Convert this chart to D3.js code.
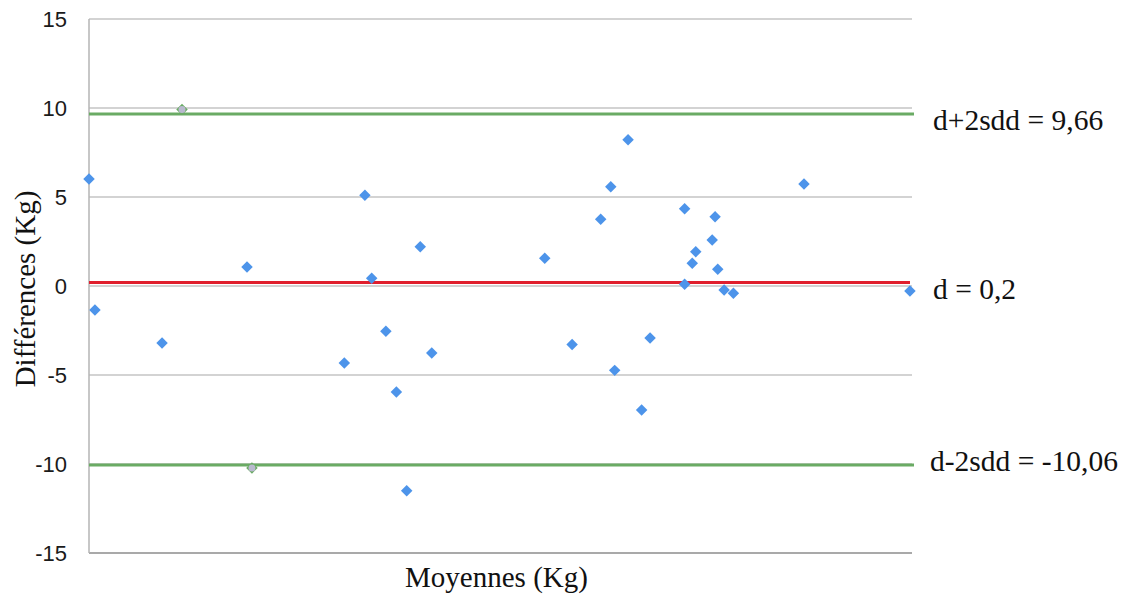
<!DOCTYPE html>
<html>
<head>
<meta charset="utf-8">
<script src="https://cdn.jsdelivr.net/npm/d3@7"></script>
<style>
  body { margin: 0; background: #fff; }
</style>
</head>
<body>
<svg id="chart"></svg>
<script>
// Dimensions
const width = 1129;
const height = 594;

const margin = { top: 19, right: 217, bottom: 41, left: 89 };

// Données (moyennes en échelle arbitraire, différences en kg)
const meanKg = [60.0, 60.29, 63.55, 67.68, 72.41, 73.41, 73.74, 74.43, 74.94, 75.44,
    76.1, 76.66, 82.15, 83.48, 84.87, 85.36, 85.55, 86.2, 86.86, 87.27,
    88.95, 88.95, 89.32, 89.49, 90.29, 90.43, 90.56, 90.87, 91.32, 94.75, 99.9];
const diffKg = [6.01, -1.35, -3.2, 1.07, -4.33, 5.1, 0.43, -2.54, -5.96, -11.5,
    2.21, -3.76, 1.56, -3.28, 3.75, 5.58, -4.74, 8.22, -6.97, -2.92,
    4.34, 0.1, 1.28, 1.93, 2.58, 3.89, 0.94, -0.22, -0.41, 5.73, -0.28];

// points proches des limites (marqueurs verts)
const edgeMean = [64.52, 67.92];
const edgeDiff = [9.92, -10.22];

const limitLabels = ["d+2sdd = 9,66", "d = 0,2", "d-2sdd = -10,06"];
const limitValues = [9.66, 0.2, -10.06];
const limitColors = ["#6aab64", "#e01f2d", "#6aab64"];

const yTicks = [-15, -10, -5, 0, 5, 10, 15];

const svg = d3.select("#chart")
    .attr("width", width)
    .attr("height", height);

const x = d3.scaleLinear()
    .domain([60, 100])
    .range([margin.left, width - margin.right]);

const y = d3.scaleLinear()
    .domain([-15, 15])
    .range([height - margin.bottom, margin.top]);

// Grille horizontale
svg.append("g")
    .selectAll("line")
    .data(yTicks)
    .join("line")
    .attr("x1", margin.left)
    .attr("x2", width - margin.right)
    .attr("y1", d => y(d))
    .attr("y2", d => y(d))
    .attr("stroke", d => d === -15 ? "#8c8c8c" : "#c4c4c4")
    .attr("stroke-width", 1.5);

// Axe vertical
svg.append("line")
    .attr("x1", margin.left)
    .attr("x2", margin.left)
    .attr("y1", y(15))
    .attr("y2", y(-15))
    .attr("stroke", "#b5b5b5")
    .attr("stroke-width", 1.5);

// Étiquettes de l'axe Y (tiret simple comme dans l'original)
svg.append("g")
    .call(d3.axisLeft(y).tickValues(yTicks).tickSize(0).tickPadding(0)
        .tickFormat(d => String(d)))
    .attr("transform", `translate(${margin.left - 22},0)`)
    .call(g => g.select(".domain").remove())
    .call(g => g.selectAll("text")
        .attr("font-family", "Liberation Sans, Arial, sans-serif")
        .attr("font-size", 22)
        .attr("fill", "#1a1a1a"));

// Lignes d (moyenne) et limites
svg.append("g")
    .selectAll("line")
    .data(limitValues)
    .join("line")
    .attr("x1", margin.left)
    .attr("x2", (d, i) => width - margin.right + (i === 1 ? -2 : 2))
    .attr("y1", d => y(d))
    .attr("y2", d => y(d))
    .attr("stroke", (d, i) => limitColors[i])
    .attr("stroke-width", 3);

svg.append("g")
    .selectAll("text")
    .data(limitValues)
    .join("text")
    .attr("x", (d, i) => i === 2 ? 930 : 933)
    .attr("y", d => y(d))
    .attr("dy", (d, i) => [16, 17, 6][i])
    .attr("font-family", "'Liberation Serif', 'Times New Roman', serif")
    .attr("font-size", 29.5)
    .attr("fill", "#111")
    .text((d, i) => limitLabels[i]);

// Points
const diamond = d3.symbol().type(d3.symbolSquare).size(66);

svg.append("g")
    .selectAll("path")
    .data(meanKg)
    .join("path")
    .attr("d", diamond)
    .attr("transform", (d, i) => `translate(${x(d)},${y(diffKg[i])}) rotate(45)`)
    .attr("fill", "#4d94ea");

const edge = svg.append("g")
    .selectAll("g")
    .data(edgeMean)
    .join("g")
    .attr("transform", (d, i) => `translate(${x(d)},${y(edgeDiff[i])})`);

edge.append("path")
    .attr("d", diamond)
    .attr("transform", "rotate(45)")
    .attr("fill", "#6aab64");

edge.append("circle")
    .attr("r", 3.5)
    .attr("fill", "#b9b9cf");

// Titres des axes
svg.append("text")
    .attr("x", (margin.left + width - margin.right) / 2 - 4)
    .attr("y", 587)
    .attr("text-anchor", "middle")
    .attr("font-family", "'Liberation Serif', 'Times New Roman', serif")
    .attr("font-size", 29)
    .attr("fill", "#111")
    .text("Moyennes (Kg)");

svg.append("text")
    .attr("transform", "translate(35,289) rotate(-90)")
    .attr("text-anchor", "middle")
    .attr("font-family", "'Liberation Serif', 'Times New Roman', serif")
    .attr("font-size", 29)
    .attr("fill", "#111")
    .text("Différences (Kg)");
</script>
</body>
</html>
